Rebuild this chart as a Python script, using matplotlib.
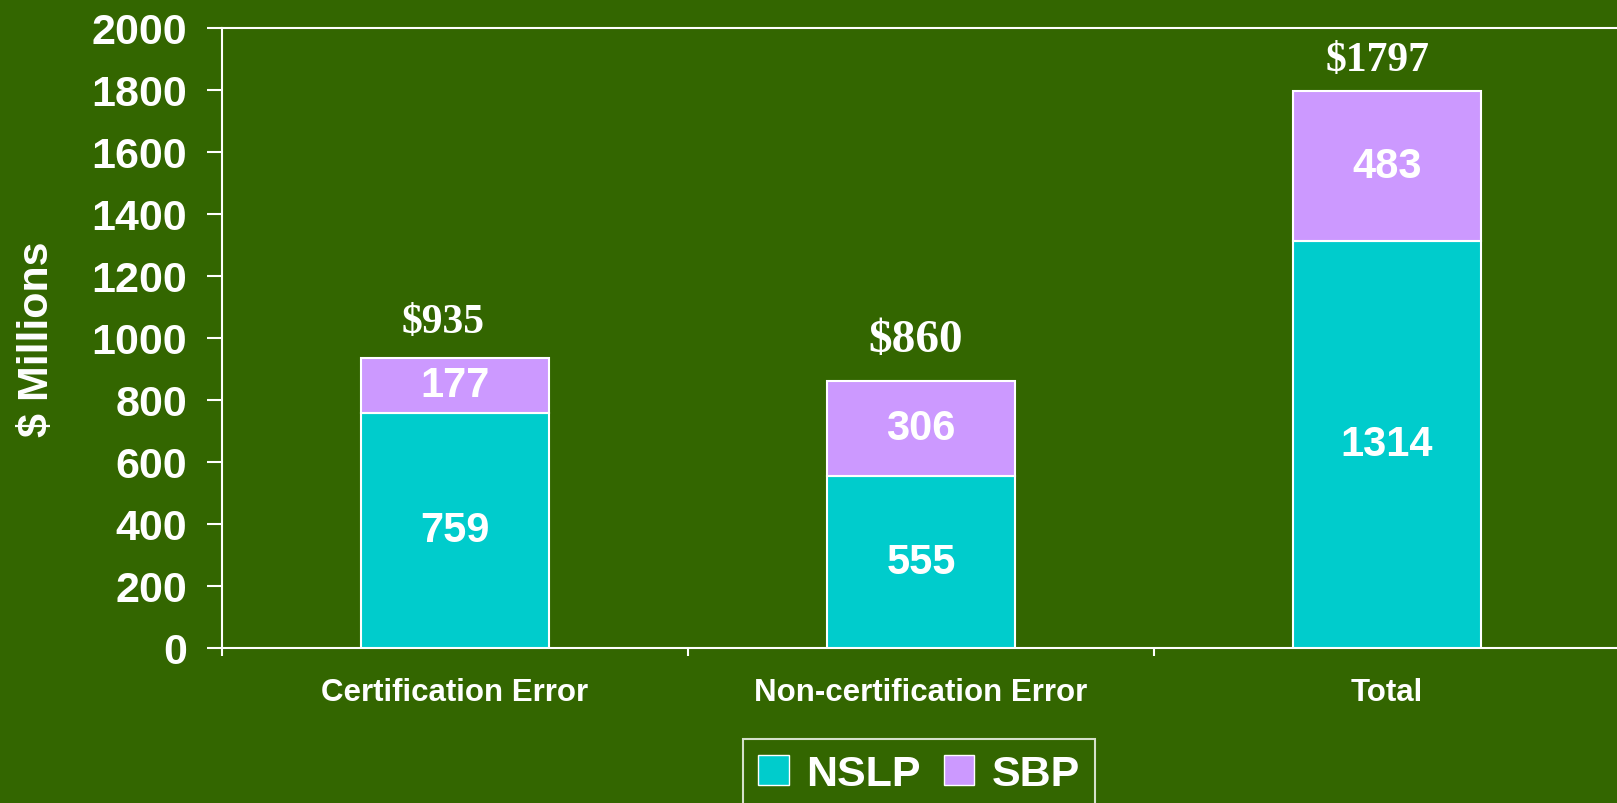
import matplotlib
matplotlib.use("Agg")
import matplotlib.pyplot as plt
from matplotlib.patches import Patch

categories = ["Certification Error", "Non-certification Error", "Total"]
nslp = [759, 555, 1314]
sbp = [177, 306, 483]
totals = ["$935", "$860", "$1797"]
yticks = [0, 200, 400, 600, 800, 1000, 1200, 1400, 1600, 1800, 2000]

# per-label styling of the total annotations (size in pt, offsets in pt)
total_sizes = [30, 34, 30]
total_dx = [-8.5, -3.5, -6.5]
total_dy = [26, 29.5, 22]

BG = "#336600"
C_NSLP = "#00CCCC"
C_SBP = "#CC99FF"
W = "white"

plt.rcParams['font.family'] = ['Liberation Sans', 'DejaVu Sans']

fig = plt.figure(figsize=(16.17, 8.04), dpi=100, facecolor=BG)
ax = fig.add_axes([0.1373, 0.1928, 0.8645, 0.7712], facecolor=BG)

x = list(range(len(categories)))
width = 0.405
ax.bar(x, nslp, width, color=C_NSLP, edgecolor=W, linewidth=1.5, zorder=3)
ax.bar(x, sbp, width, bottom=nslp, color=C_SBP, edgecolor=W, linewidth=1.5, zorder=3)

for i in x:
    ax.text(i, nslp[i] / 2, str(nslp[i]), ha="center", va="center", color=W,
            fontsize=30, fontweight="bold", zorder=4)
    ax.text(i, nslp[i] + sbp[i] / 2, str(sbp[i]), ha="center", va="center", color=W,
            fontsize=30, fontweight="bold", zorder=4)
    ax.annotate(totals[i], (i, nslp[i] + sbp[i]), xytext=(total_dx[i], total_dy[i]),
                textcoords="offset points", ha="center", va="center", color=W,
                fontsize=total_sizes[i], fontweight="bold",
                family=["Liberation Serif", "DejaVu Serif"], zorder=4)

ax.set_xlim(-0.5, 2.5)
ax.set_ylim(0, 2000)
ax.set_yticks(yticks)
ax.set_yticklabels([str(v) for v in yticks], fontsize=31, fontweight="bold", color=W)
ax.tick_params(axis="y", length=11, width=1.5, color=W, direction="out", pad=14)

ax.set_xticks(x)
ax.set_xticklabels(categories, fontsize=22.5, fontweight="bold", color=W)
ax.tick_params(axis="x", which="major", length=0, pad=21)
ax.set_xticks([-0.5, 0.5, 1.5, 2.5], minor=True)
ax.tick_params(axis="x", which="minor", length=6, width=1.5, color=W, direction="out")

for s in ["left", "bottom", "top"]:
    ax.spines[s].set_color(W)
    ax.spines[s].set_linewidth(1.5)
ax.spines["right"].set_visible(False)

ax.set_ylabel("$ Millions", fontsize=31, fontweight="bold", color=W, labelpad=25)

handles = [Patch(facecolor=C_NSLP, edgecolor=W, label="NSLP"),
           Patch(facecolor=C_SBP, edgecolor=W, label="SBP")]
leg = fig.legend(handles=handles, loc="upper center", bbox_to_anchor=(0.5683, 0.0795),
                 ncol=2, frameon=True, fancybox=False, facecolor=BG, edgecolor=W,
                 prop={"family": ["Liberation Sans", "DejaVu Sans"], "weight": "bold", "size": 31},
                 handlelength=0.7, handleheight=0.7, handletextpad=0.4, columnspacing=0.55,
                 borderpad=0.35, borderaxespad=0)
for t in leg.get_texts():
    t.set_color(W)
leg.get_frame().set_linewidth(1.5)

fig.savefig("out.png", dpi=100, facecolor=BG)
